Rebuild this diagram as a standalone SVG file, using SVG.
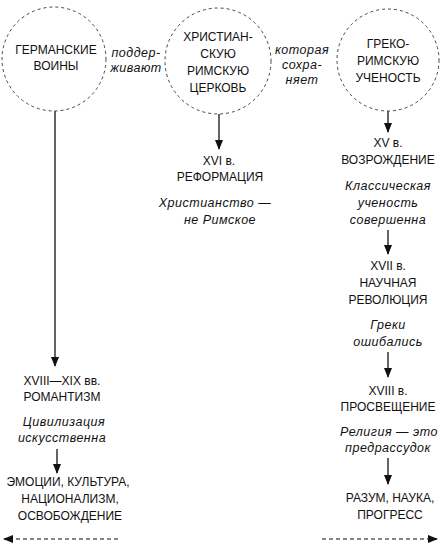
<svg xmlns="http://www.w3.org/2000/svg" width="440" height="546" viewBox="0 0 440 546">
<style>
.t{font-family:"Liberation Sans",Arial,sans-serif;font-size:12px;fill:#111;text-anchor:middle}
.i{font-family:"Liberation Sans",Arial,sans-serif;font-size:12.5px;font-style:italic;fill:#111;text-anchor:middle;letter-spacing:0.5px}
.c{fill:none;stroke:#444;stroke-width:1;stroke-dasharray:3 3}
.a{stroke:#111;stroke-width:1.3;fill:none;marker-end:url(#ah)}
.d{stroke:#111;stroke-width:1.1;fill:none;stroke-dasharray:4 3;marker-end:url(#ah)}
</style>
<defs>
<marker id="ah" markerUnits="userSpaceOnUse" markerWidth="10" markerHeight="8" refX="9" refY="4" orient="auto">
<path d="M0,0 L10,4 L0,8 Z" fill="#111"/>
</marker>
</defs>
<rect width="440" height="546" fill="#fff"/>
<g id="connectors">
<line class="a" x1="55" y1="111" x2="55" y2="366"/>
<line class="a" x1="219" y1="114" x2="219" y2="149"/>
<line class="a" x1="388" y1="111" x2="388" y2="132"/>
<line class="a" x1="388" y1="230" x2="388" y2="254"/>
<line class="a" x1="388" y1="352" x2="388" y2="377"/>
<line class="a" x1="388" y1="458" x2="388" y2="484"/>
<line class="a" x1="57" y1="449" x2="57" y2="473"/>
<line class="d" x1="118" y1="539" x2="4" y2="539"/>
<line class="d" x1="322" y1="539" x2="437" y2="539"/>
<text class="i" x="136" y="57">поддер-</text>
<text class="i" x="136" y="72">живают</text>
<text class="i" x="302" y="54">которая</text>
<text class="i" x="302" y="69">сохра-</text>
<text class="i" x="302" y="84">няет</text>
</g>
<g id="germans">
<circle class="c" cx="54" cy="59" r="52"/>
<text class="t" x="56" y="54">ГЕРМАНСКИЕ</text>
<text class="t" x="56" y="70">ВОИНЫ</text>
</g>
<g id="church">
<circle class="c" cx="218" cy="61" r="53"/>
<text class="t" x="218" y="41">ХРИСТИАН-</text>
<text class="t" x="218" y="58">СКУЮ</text>
<text class="t" x="218" y="75">РИМСКУЮ</text>
<text class="t" x="218" y="92">ЦЕРКОВЬ</text>
</g>
<g id="learning">
<circle class="c" cx="388" cy="60" r="51"/>
<text class="t" x="388" y="48">ГРЕКО-</text>
<text class="t" x="388" y="65">РИМСКУЮ</text>
<text class="t" x="388" y="82">УЧЕНОСТЬ</text>
</g>
<g id="reformation">
<text class="t" x="219" y="165">XVI в.</text>
<text class="t" x="220" y="181">РЕФОРМАЦИЯ</text>
<text class="i" x="215" y="207">Христианство —</text>
<text class="i" x="220" y="224">не Римское</text>
</g>
<g id="renaissance">
<text class="t" x="388" y="147">XV в.</text>
<text class="t" x="388" y="164">ВОЗРОЖДЕНИЕ</text>
<text class="i" x="388" y="190">Классическая</text>
<text class="i" x="388" y="207">ученость</text>
<text class="i" x="388" y="224">совершенна</text>
</g>
<g id="science">
<text class="t" x="388" y="270">XVII в.</text>
<text class="t" x="388" y="287">НАУЧНАЯ</text>
<text class="t" x="388" y="304">РЕВОЛЮЦИЯ</text>
<text class="i" x="388" y="329">Греки</text>
<text class="i" x="388" y="346">ошибались</text>
</g>
<g id="enlightenment">
<text class="t" x="388" y="395">XVIII в.</text>
<text class="t" x="388" y="411">ПРОСВЕЩЕНИЕ</text>
<text class="i" x="389" y="436">Религия — это</text>
<text class="i" x="388" y="452">предрассудок</text>
</g>
<g id="reason">
<text class="t" x="390" y="502">РАЗУМ, НАУКА,</text>
<text class="t" x="390" y="519">ПРОГРЕСС</text>
</g>
<g id="romanticism">
<text class="t" x="62" y="385">XVIII—XIX вв.</text>
<text class="t" x="62" y="401">РОМАНТИЗМ</text>
<text class="i" x="64" y="426">Цивилизация</text>
<text class="i" x="62" y="442">искусственна</text>
</g>
<g id="emotions">
<text class="t" x="68" y="486">ЭМОЦИИ, КУЛЬТУРА,</text>
<text class="t" x="70" y="503">НАЦИОНАЛИЗМ,</text>
<text class="t" x="70" y="520">ОСВОБОЖДЕНИЕ</text>
</g>
</svg>
